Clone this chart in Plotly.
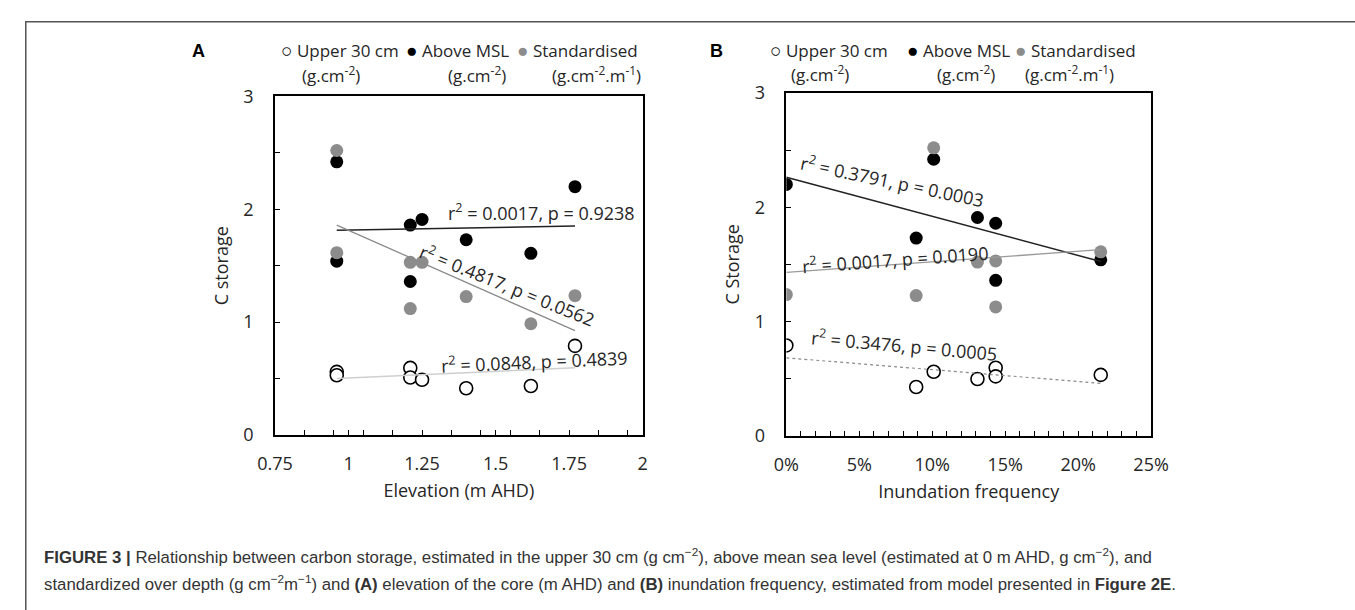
import numpy as np
import plotly.graph_objects as go

# ---------------- data ----------------
# Panel A: elevation of the core (m AHD)
elevation = [0.96, 0.96, 1.21, 1.21, 1.25, 1.40, 1.62, 1.77]
upper_a = [0.56, 0.53, 0.595, 0.51, 0.49, 0.415, 0.435, 0.79]
above_a = [2.42, 1.54, 1.86, 1.36, 1.91, 1.73, 1.61, 2.20]
std_a = [2.52, 1.615, 1.53, 1.12, 1.53, 1.227, 0.986, 1.235]

# Panel B: inundation frequency (fraction)
inundation = [0.101, 0.2155, 0.1435, 0.1435, 0.131, 0.089, 0.0]
upper_b = [0.56, 0.532, 0.595, 0.519, 0.496, 0.426, 0.79]
above_b = [2.42, 1.54, 1.86, 1.36, 1.91, 1.73, 2.20]
std_b = [2.52, 1.61, 1.53, 1.127, 1.52, 1.227, 1.235]

series_names = ["Upper 30 cm", "Above MSL", "Standardised"]
series_units = ["(g.cm<sup>-2</sup>)", "(g.cm<sup>-2</sup>)", "(g.cm<sup>-2</sup>.m<sup>-1</sup>)"]

stats_a = ["r<sup>2</sup> = 0.0017, p = 0.9238",
           "r<sup>2</sup> = 0.4817, p = 0.0562",
           "r<sup>2</sup> = 0.0848, p = 0.4839"]
stats_b = ["r<sup>2</sup> = 0.3791, p = 0.0003",
           "r<sup>2</sup> = 0.0017, p = 0.0190",
           "r<sup>2</sup> = 0.3476, p = 0.0005"]

# tick labels and tick-mark positions
a_tickvals = [0.75, 1.0, 1.25, 1.5, 1.75, 2.0]
a_ticktext = ["0.75", "1", "1.25", "1.5", "1.75", "2"]
a_minor_ticks = [0.85, 0.95, 1.05, 1.15, 1.35, 1.45, 1.55, 1.65, 1.85, 1.95]
b_tickvals = [0.0, 0.05, 0.10, 0.15, 0.20, 0.25]
b_ticktext = ["0%", "5%", "10%", "15%", "20%", "25%"]
b_minor_step = 0.01
y_tickvals = [0, 1, 2, 3]
y_ticktext = ["0", "1", "2", "3"]
y_minor_step = 0.5

caption_1 = ("<b>FIGURE 3 |</b> Relationship between carbon storage, estimated in the upper 30 cm "
             "(g cm<sup>\u22122</sup>), above mean sea level (estimated at 0 m AHD, g cm<sup>\u22122</sup>), and")
caption_2 = ("standardized over depth (g cm<sup>\u22122</sup>m<sup>\u22121</sup>) and <b>(A)</b> elevation of the core "
             "(m AHD) and <b>(B)</b> inundation frequency, estimated from model presented in <b>Figure 2E</b>.")

# ---------------- style ----------------
W, H = 1355, 610
FONT = "Open Sans"
TXT = "#262626"
GRAY = "#8c8c8c"


def px_x(p):
    return p / W


def px_y(p):
    return 1 - p / H


fig = go.Figure()


def fit_line(x, y):
    k, b = np.polyfit(np.array(x, float), np.array(y, float), 1)
    xs = [min(x), max(x)]
    return xs, [k * v + b for v in xs]


def add_panel(x, up, ab, sd, xa, ya, line_styles):
    fig.add_trace(go.Scatter(x=x, y=up, mode="markers", xaxis=xa, yaxis=ya, showlegend=False,
                             marker=dict(size=13, color="white", line=dict(color="black", width=1.6))))
    fig.add_trace(go.Scatter(x=x, y=ab, mode="markers", xaxis=xa, yaxis=ya, showlegend=False,
                             marker=dict(size=13, color="black")))
    fig.add_trace(go.Scatter(x=x, y=sd, mode="markers", xaxis=xa, yaxis=ya, showlegend=False,
                             marker=dict(size=13, color=GRAY)))
    for yy, st in zip([ab, sd, up], line_styles):
        lx, ly = fit_line(x, yy)
        fig.add_trace(go.Scatter(x=lx, y=ly, mode="lines", xaxis=xa, yaxis=ya, showlegend=False,
                                 line=st, hoverinfo="skip"))


add_panel(elevation, upper_a, above_a, std_a, "x", "y",
          [dict(color="#222222", width=1.5), dict(color="#8a8a8a", width=1.3),
           dict(color="#cfcfcf", width=1.6)])
add_panel(inundation, upper_b, above_b, std_b, "x2", "y2",
          [dict(color="#222222", width=1.5), dict(color="#9a9a9a", width=1.3),
           dict(color="#8a8a8a", width=1.2, dash="dot")])

axis_common = dict(showline=True, mirror=True, linecolor="black", linewidth=1.5,
                   ticks="inside", ticklen=5, tickwidth=1.3, tickcolor="black",
                   showgrid=False, zeroline=False, tickfont=dict(family=FONT, size=18, color=TXT),
                   tickmode="array", tickangle=0)
minor_common = dict(ticks="inside", ticklen=5, tickwidth=1.3, tickcolor="black", showgrid=False)

fig.update_layout(
    width=W, height=H, margin=dict(l=0, r=0, t=0, b=0),
    paper_bgcolor="white", plot_bgcolor="white", showlegend=False,
    font=dict(family=FONT, size=18, color=TXT),
    xaxis=dict(axis_common, domain=[px_x(264), px_x(641.7)], range=[0.75, 2.0], anchor="y",
               tickvals=a_tickvals, ticktext=a_ticktext, ticklabelstandoff=12,
               minor=dict(minor_common, tickmode="array", tickvals=a_minor_ticks),
               title=dict(text="Elevation (m AHD)", font=dict(family=FONT, size=18, color=TXT), standoff=10)),
    yaxis=dict(axis_common, domain=[px_y(439.4), px_y(86.7)], range=[0, 3], anchor="x",
               tickvals=y_tickvals, ticktext=y_ticktext, ticklabelstandoff=16,
               minor=dict(minor_common, dtick=y_minor_step),
               title=dict(text="C storage", font=dict(family=FONT, size=18, color=TXT), standoff=10)),
    xaxis2=dict(axis_common, domain=[px_x(789.3), px_x(1164)], range=[0, 0.25], anchor="y2",
                tickvals=b_tickvals, ticktext=b_ticktext, ticklabelstandoff=12,
                minor=dict(minor_common, dtick=b_minor_step),
                title=dict(text="Inundation frequency", font=dict(family=FONT, size=18, color=TXT), standoff=10)),
    yaxis2=dict(axis_common, domain=[px_y(440), px_y(83.3)], range=[0, 3], anchor="x2",
                tickvals=y_tickvals, ticktext=y_ticktext, ticklabelstandoff=16,
                minor=dict(minor_common, dtick=y_minor_step),
                title=dict(text="C Storage", font=dict(family=FONT, size=18, color=TXT), standoff=10)),
)

ann = []
# regression statistics (positions in data units, rotation in degrees)
stat_pos_a = [(1.657, 1.975, 0), (1.541, 1.33, 22), (1.633, 0.66, -2.5)]
stat_pos_b = [(0.0731, 2.23, 11.8), (0.0745, 1.55, -4.1), (0.081, 0.79, 5.1)]
for txt, (xx, yy, ang) in zip(stats_a, stat_pos_a):
    ann.append(dict(x=xx, y=yy, xref="x", yref="y", text=txt, showarrow=False, textangle=ang,
                    font=dict(family=FONT, size=18, color=TXT)))
for txt, (xx, yy, ang) in zip(stats_b, stat_pos_b):
    ann.append(dict(x=xx, y=yy, xref="x2", yref="y2", text=txt, showarrow=False, textangle=ang,
                    font=dict(family=FONT, size=18, color=TXT)))

# legends (text with symbol glyphs), left edge of each entry / centre of unit line
glyphs = ["<span style='color:black;font-size:19px'>\u25CB</span>",
          "<span style='color:black;font-size:19px'>\u25CF</span>",
          "<span style='color:%s;font-size:19px'>\u25CF</span>" % GRAY]
leg_a = dict(l1=[268, 397, 511], c2=[322, 472, 594], y1=39, y2=64)
leg_b = dict(l1=[770, 911, 1022], c2=[824, 974, 1080], y1=38, y2=63)
for leg in (leg_a, leg_b):
    for i in range(3):
        ann.append(dict(x=px_x(leg["l1"][i]), y=px_y(leg["y1"]), xref="paper", yref="paper",
                        text=glyphs[i] + " " + series_names[i], showarrow=False,
                        xanchor="left", yanchor="middle", font=dict(family=FONT, size=17, color=TXT)))
        ann.append(dict(x=px_x(leg["c2"][i]), y=px_y(leg["y2"]), xref="paper", yref="paper",
                        text=series_units[i], showarrow=False,
                        xanchor="center", yanchor="middle", font=dict(family=FONT, size=17, color=TXT)))

# panel letters
for letter, xp in (("A", 185), ("B", 718)):
    ann.append(dict(x=px_x(xp), y=px_y(40), xref="paper", yref="paper", text="<b>%s</b>" % letter,
                    showarrow=False, xanchor="center", yanchor="middle",
                    font=dict(family="Liberation Sans, Arial", size=18, color="black")))

# caption
for txt, yp in ((caption_1, 565), (caption_2, 593)):
    ann.append(dict(x=px_x(25), y=px_y(yp), xref="paper", yref="paper", text=txt, showarrow=False,
                    xanchor="left", yanchor="middle", align="left",
                    font=dict(family="Liberation Sans, Arial", size=16.8, color="#333333")))

fig.update_layout(annotations=ann)

# outer figure frame
fig.add_shape(type="rect", xref="paper", yref="paper", x0=px_x(8), x1=1.2, y0=-0.2, y1=px_y(9),
              line=dict(color="#555555", width=1.5))

fig.write_html("out.html", config={"displayModeBar": False},
               post_script="document.body.style.margin='0px';")
